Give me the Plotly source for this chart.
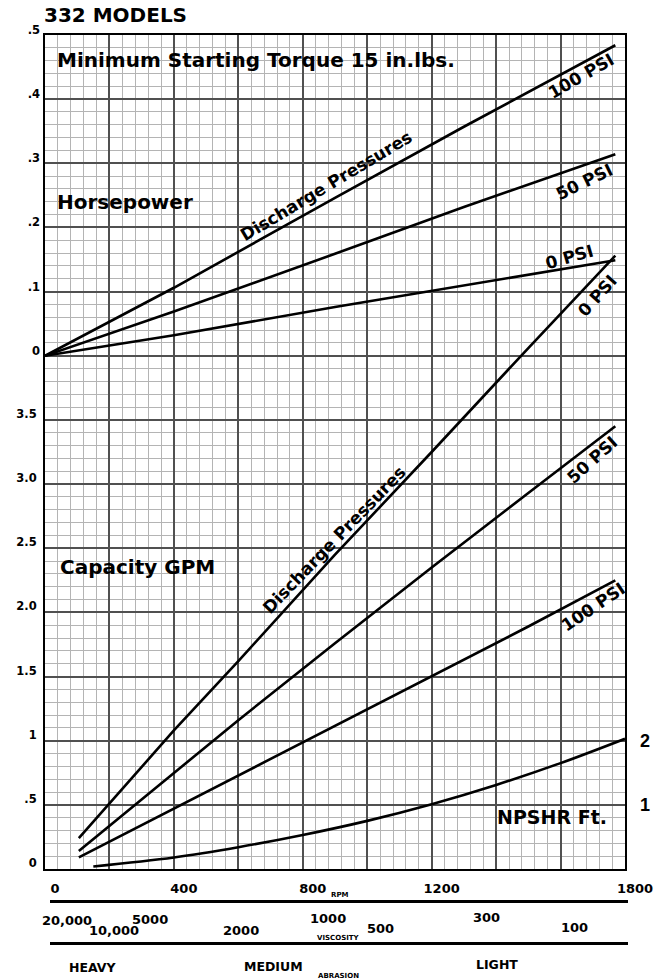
import plotly.graph_objects as go

# ---------------- data ----------------
HP_RPM = [0, 400, 900, 1300, 1770]
HP_0_PSI = [0.0, 0.032, 0.076, 0.110, 0.149]
HP_50_PSI = [0.0, 0.069, 0.159, 0.232, 0.314]
HP_100_PSI = [0.0, 0.106, 0.246, 0.357, 0.484]

GPM_RPM = [105, 400, 600, 900, 1200, 1500, 1770]
GPM_0_PSI = [0.24, 1.08, 1.62, 2.45, 3.25, 4.06, 4.78]
GPM_50_PSI = [0.14, 0.75, 1.16, 1.76, 2.35, 2.93, 3.45]
GPM_100_PSI = [0.09, 0.47, 0.73, 1.12, 1.50, 1.89, 2.25]

NPSHR_RPM = [150, 400, 600, 800, 1000, 1200, 1400, 1600, 1800]
NPSHR_FT = [0.04, 0.18, 0.34, 0.53, 0.75, 1.01, 1.31, 1.65, 2.03]

RPM_TICKS = [0, 200, 400, 600, 800, 1000, 1200, 1400, 1600, 1800]
RPM_LABELS = ["0", "", "400", "", "800", "", "1200", "", "", "1800"]
GPM_TICKS = [0, 0.5, 1.0, 1.5, 2.0, 2.5, 3.0, 3.5, 4.0, 4.5, 5.0, 5.5, 6.0, 6.5]
GPM_LABELS = ["0", ".5", "1", "1.5", "2.0", "2.5", "3.0", "3.5", "", "", "", "", "", ""]
HP_TICKS = [0, 0.1, 0.2, 0.3, 0.4, 0.5]
HP_LABELS = ["0", ".1", ".2", ".3", ".4", ".5"]
NPSHR_TICKS = [1, 2]
NPSHR_LABELS = ["1", "2"]

VISCOSITY_LABELS = ["20,000", "10,000", "5000", "2000", "1000", "500", "300", "100"]
ABRASION_LABELS = ["HEAVY", "MEDIUM", "LIGHT"]

# ---------------- layout helpers ----------------
W, H = 666, 979
ML, MR, MT, MB = 45, 41, 35, 110
PW = W - ML - MR
PH = H - MT - MB


def px(x):
    return (x - ML) / PW


def py(y):
    return (H - MB - y) / PH


FONT = "DejaVu Sans"
BOLD = dict(family=FONT, color="black", weight="bold")
LINE = dict(color="black", width=2.6)

fig = go.Figure()

# Horsepower curves (upper scale)
for vals in (HP_0_PSI, HP_50_PSI, HP_100_PSI):
    fig.add_trace(go.Scatter(x=HP_RPM, y=vals, yaxis="y2", mode="lines",
                             line=LINE, hoverinfo="skip"))
# Capacity curves
for vals in (GPM_0_PSI, GPM_50_PSI, GPM_100_PSI):
    fig.add_trace(go.Scatter(x=GPM_RPM, y=vals, yaxis="y", mode="lines",
                             line=LINE, hoverinfo="skip"))
# NPSHR curve
fig.add_trace(go.Scatter(x=NPSHR_RPM, y=NPSHR_FT, yaxis="y3", mode="lines",
                         line=dict(color="black", width=2.6, shape="spline", smoothing=1.0),
                         hoverinfo="skip"))

MAJOR = "#505050"
MINOR = "#b4b4b4"

fig.update_layout(
    width=W, height=H,
    margin=dict(l=ML, r=MR, t=MT, b=MB),
    paper_bgcolor="white", plot_bgcolor="white",
    showlegend=False, hovermode=False,
    xaxis=dict(
        range=[0, 1800], tickmode="array", tickvals=RPM_TICKS, ticktext=RPM_LABELS,
        showgrid=True, gridcolor=MAJOR, gridwidth=2, zeroline=False,
        minor=dict(tickmode="linear", tick0=0, dtick=40, showgrid=True,
                   gridcolor=MINOR, gridwidth=1),
        showline=True, mirror=True, linecolor="black", linewidth=2,
        ticks="", tickfont=dict(size=13, **BOLD),
        ticklabelshift=10, ticklabelstandoff=6,
    ),
    yaxis=dict(
        range=[0, 6.5], tickmode="array", tickvals=GPM_TICKS, ticktext=GPM_LABELS,
        showgrid=True, gridcolor=MAJOR, gridwidth=2, zeroline=False,
        minor=dict(tickmode="linear", tick0=0, dtick=0.1, showgrid=True,
                   gridcolor=MINOR, gridwidth=1),
        showline=True, mirror=True, linecolor="black", linewidth=2,
        ticks="", tickfont=dict(size=11.5, **BOLD),
        ticklabelshift=-6, ticklabelstandoff=4,
    ),
    yaxis2=dict(
        overlaying="y", side="left", range=[-0.8, 0.5],
        tickmode="array", tickvals=HP_TICKS, ticktext=HP_LABELS,
        showgrid=False, zeroline=False, showline=False, ticks="",
        tickfont=dict(size=11.5, **BOLD), ticklabelshift=-5, ticklabelstandoff=4,
    ),
    yaxis3=dict(
        overlaying="y", side="right", range=[0, 13],
        tickmode="array", tickvals=NPSHR_TICKS, ticktext=NPSHR_LABELS,
        showgrid=False, zeroline=False, showline=False, ticks="",
        tickfont=dict(size=18, family="Liberation Sans", color="black", weight="bold"),
        ticklabelstandoff=14,
    ),
)

ann = []


def text(t, x, y, size, angle=0, xanchor="center", bold=True):
    f = dict(BOLD) if bold else dict(family=FONT, color="black")
    f["size"] = size
    ann.append(dict(text=t, x=px(x), y=py(y), xref="paper", yref="paper",
                    xanchor=xanchor, yanchor="middle", showarrow=False,
                    textangle=angle, font=f))


# titles
text("332 MODELS", 42, 15, 20, xanchor="left")
text("Minimum Starting Torque 15 in.lbs.", 55, 60, 20, xanchor="left")
text("Horsepower", 55, 202, 20, xanchor="left")
text("Capacity GPM", 58, 567, 20, xanchor="left")
text("NPSHR Ft.", 495, 817, 19, xanchor="left")

# curve labels
text("Discharge Pressures", 326, 186, 17, angle=-31)
text("Discharge Pressures", 334, 540, 17, angle=-46)
text("100 PSI", 581, 76, 17, angle=-30)
text("50 PSI", 584, 182, 17, angle=-26)
text("0 PSI", 569, 257, 17, angle=-16)
text("0 PSI", 597, 296, 17, angle=-48)
text("50 PSI", 592, 460, 17, angle=-42)
text("100 PSI", 593, 607, 17, angle=-34)

# bottom scales
text("RPM", 340, 895, 7)
visc_pos = [(67, 920), (114, 930), (150, 919), (241, 930),
            (328, 918), (380, 928), (486, 917), (574, 927)]
for lab, (x, y) in zip(VISCOSITY_LABELS, visc_pos):
    text(lab, x, y, 13)
text("VISCOSITY", 338, 938, 7)
abr_pos = [(93, 967), (273, 966), (497, 964)]
for lab, (x, y) in zip(ABRASION_LABELS, abr_pos):
    text(lab, x, y, 12.5)
text("ABRASION", 338, 976, 7)

fig.update_layout(annotations=ann)

shapes = []
for yline in (901.5, 943.5):
    shapes.append(dict(type="line", xref="paper", yref="paper",
                       x0=px(50), x1=px(628), y0=py(yline), y1=py(yline),
                       line=dict(color="black", width=2.8)))
fig.update_layout(shapes=shapes)

fig.write_html(
    "out.html",
    config={"displayModeBar": False, "staticPlot": True},
    post_script="document.body.style.margin='0';document.body.style.overflow='hidden';",
)
